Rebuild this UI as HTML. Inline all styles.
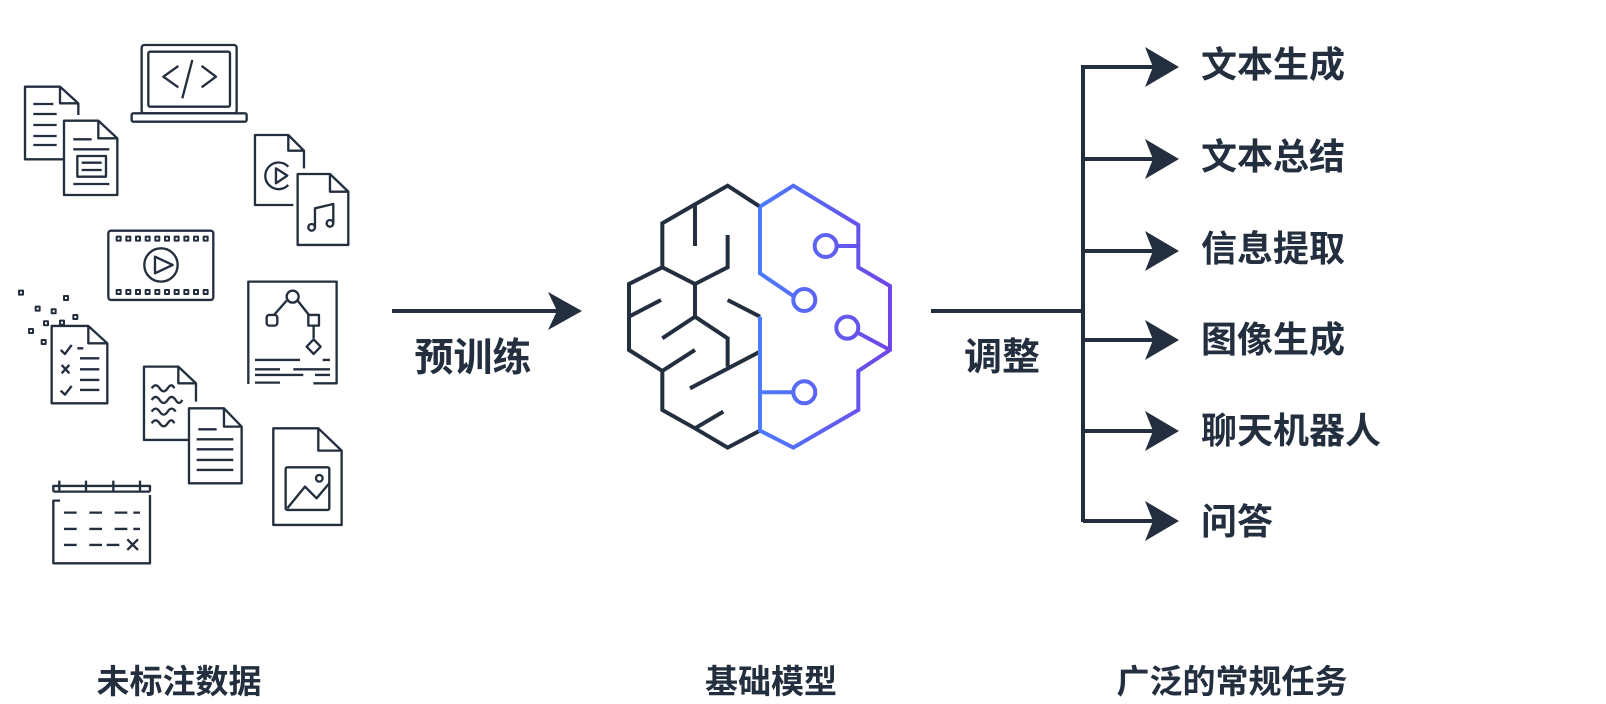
<!DOCTYPE html>
<html><head><meta charset="utf-8"><style>
html,body{margin:0;padding:0;background:#fff;width:1606px;height:704px;overflow:hidden}
svg{display:block}
text{font-family:"Liberation Sans","Noto Sans CJK SC",sans-serif;font-weight:bold;fill:#232f3e}
</style></head><body>
<svg width="1606" height="704" viewBox="0 0 1606 704" xmlns="http://www.w3.org/2000/svg">
<defs>
<linearGradient id="g" gradientUnits="userSpaceOnUse" x1="500" y1="0" x2="900" y2="0">
<stop offset="0" stop-color="#4a7dff"/><stop offset="1" stop-color="#6f45e6"/></linearGradient>
</defs>
<g transform="translate(0,30) scale(0.3333)" fill="none" stroke="#232f3e" stroke-width="7" stroke-linejoin="round">
<rect x="425" y="45" width="285" height="205" rx="8"/>
<rect x="445" y="65" width="245" height="165" rx="5"/>
<rect x="395" y="250" width="345" height="25" rx="5"/>
<path d="M535 108 L490 140 L535 172 M577 90 L547 205 M605 108 L648 140 L605 172"/>
<path d="M235 255 V220 L180 170 H75 V388 H190 M180 170 V220 H235"/>
<path d="M100 222H160M100 252H170M100 285H170M100 318H170M100 345H170"/>
<path d="M192 272 H295 L352 325 V495 H192 Z M295 272 V325 H352"/>
<path d="M220 328H275M220 358H328M220 462H328"/>
<rect x="232" y="378" width="86" height="62"/>
<path d="M245 398H305M245 420H305"/>
<path d="M912 415 V362 L865 315 H765 V525 H880 M865 315 V362 H912"/>
<path d="M865 410 A40 40 0 1 0 865 465"/>
<path d="M828 415 L862 437 L828 460 Z"/>
<path d="M893 432 H990 L1045 485 V645 H893 Z M990 432 V485 H1045"/>
<path d="M945 590 V535 L1000 522 V580"/>
<circle cx="935" cy="592" r="10"/><circle cx="990" cy="580" r="10"/>
<rect x="325" y="602" width="315" height="208" rx="8"/>
<g stroke-width="6">
<rect x="350" y="620" width="12" height="12"/><rect x="379" y="620" width="12" height="12"/><rect x="408" y="620" width="12" height="12"/><rect x="437" y="620" width="12" height="12"/><rect x="466" y="620" width="12" height="12"/><rect x="495" y="620" width="12" height="12"/><rect x="524" y="620" width="12" height="12"/><rect x="553" y="620" width="12" height="12"/><rect x="582" y="620" width="12" height="12"/><rect x="611" y="620" width="12" height="12"/>
<rect x="350" y="780" width="12" height="12"/><rect x="379" y="780" width="12" height="12"/><rect x="408" y="780" width="12" height="12"/><rect x="437" y="780" width="12" height="12"/><rect x="466" y="780" width="12" height="12"/><rect x="495" y="780" width="12" height="12"/><rect x="524" y="780" width="12" height="12"/><rect x="553" y="780" width="12" height="12"/><rect x="582" y="780" width="12" height="12"/><rect x="611" y="780" width="12" height="12"/>
</g>
<circle cx="483" cy="705" r="50"/>
<path d="M465 680 L518 705 L465 730 Z"/>
<g stroke-width="6">
<rect x="57" y="782" width="12" height="12"/><rect x="192" y="798" width="12" height="12"/><rect x="107" y="830" width="12" height="12"/><rect x="155" y="838" width="12" height="12"/><rect x="220" y="855" width="12" height="12"/><rect x="132" y="874" width="12" height="12"/><rect x="180" y="872" width="12" height="12"/><rect x="87" y="897" width="12" height="12"/><rect x="125" y="930" width="12" height="12"/>
</g>
<path d="M155 888 H265 L322 940 V1120 H155 Z M265 888 V940 H322"/>
<path d="M182 960 L195 972 L215 945 M232 955H250M185 1005 L208 1030 M208 1005 L185 1030 M240 985H298M240 1018H298M240 1050H298M182 1082 L195 1094 L215 1068 M240 1080H298"/>
<path d="M745 1062 V755 H1010 V1060 H940"/>
<circle cx="878" cy="800" r="18"/>
<rect x="800" y="855" width="32" height="32" rx="8"/>
<rect x="925" y="855" width="32" height="32"/>
<path d="M860 812 L822 855 M893 812 L927 855 M941 887 V925"/>
<path d="M941 928 L962 950 L941 972 L920 950 Z"/>
<path d="M765 990H900M968 990H990M765 1018H840M880 1018H990M765 1035H910M945 1035H990M765 1058H840"/>
<path d="M588 1115 V1060 L535 1010 H432 V1230 H565 M535 1010 V1060 H588"/>
<path d="M455 1075 q12 -18 24 0 q12 18 24 0 q12 -18 20 0 M455 1110 q12 -18 24 0 q12 18 24 0 q12 -18 24 0 q10 18 20 0 M455 1145 q12 -18 24 0 q12 18 24 0 q12 -18 24 0 M455 1180 q12 -18 24 0 q12 18 24 0 q12 -18 20 0"/>
<path d="M567 1135 H672 L725 1190 V1360 H567 Z M672 1135 V1190 H725"/>
<path d="M595 1198H650M590 1228H700M590 1258H700M590 1290H700M590 1320H700"/>
<path d="M820 1195 H955 L1025 1262 V1485 H820 Z M955 1195 V1262 H1025"/>
<rect x="857" y="1312" width="131" height="128" rx="5"/>
<path d="M862 1435 L915 1370 L950 1405 L988 1360"/>
<circle cx="958" cy="1345" r="10"/>
<path d="M160 1385 V1368 H178 M178 1352 V1385 M178 1368 H258 M258 1352 V1385 M258 1368 H340 M340 1352 V1385 M340 1368 H420 M420 1352 V1385 M420 1368 H450 V1385 M160 1385 H450"/>
<path d="M160 1440 V1412 H180 M160 1440 V1600 H450 V1395"/>
<path d="M192 1448H230M268 1448H306M344 1448H382M400 1448H420M192 1497H230M268 1497H306M344 1497H382M400 1497H420M192 1545H230M268 1545H306M320 1545H358M382 1528 L414 1560 M414 1528 L382 1560"/>
</g>
<line x1="392" y1="311" x2="560" y2="311" stroke="#232f3e" stroke-width="4"/>
<path d="M582 311 L548 292 L557 311 L548 330 Z" fill="#232f3e"/>
<text x="473" y="371" font-size="39" text-anchor="middle">预训练</text>
<g transform="translate(590,160) scale(0.3333)" fill="none" stroke-width="12" stroke-linejoin="miter" stroke-linecap="butt">
<g stroke="#232f3e">
<path d="M510 140 L413 77 L315 133 L217 190 V322 L117 372 V570 L217 633 V750 L315 805 L413 863 L510 812"/>
<path d="M315 133 V258 M217 322 L315 372 L413 322 V225 M315 372 V470 L217 535 M117 470 L213 420 M315 470 L413 535 V620 M217 633 L315 570 M300 685 L510 575 M413 420 L510 470 M315 805 L400 755"/>
</g>
<g stroke="url(#g)">
<path d="M510 140 V340 L610 408"/>
<circle cx="643" cy="420" r="33"/>
<path d="M510 140 L610 77 L805 195 V322 L900 378 V570 L805 633 V750 L610 863 L510 812 V470"/>
<circle cx="707" cy="258" r="33"/>
<path d="M740 258 H805"/>
<circle cx="772" cy="503" r="33"/>
<path d="M803 518 L900 570"/>
<circle cx="643" cy="697" r="33"/>
<path d="M510 697 H610"/>
</g>
</g>
<line x1="931" y1="311" x2="1085" y2="311" stroke="#232f3e" stroke-width="4"/>
<text x="1002" y="370" font-size="38" text-anchor="middle">调整</text>
<line x1="1083" y1="65" x2="1083" y2="522" stroke="#232f3e" stroke-width="4"/>
<g stroke="#232f3e" stroke-width="4">
<line x1="1083" y1="67" x2="1155" y2="67"/><line x1="1083" y1="159" x2="1155" y2="159"/><line x1="1083" y1="251" x2="1155" y2="251"/><line x1="1083" y1="340" x2="1155" y2="340"/><line x1="1083" y1="431" x2="1155" y2="431"/><line x1="1083" y1="521" x2="1155" y2="521"/>
</g>
<g fill="#232f3e">
<path d="M1179 67 L1145 47 L1153 67 L1145 87 Z"/>
<path d="M1179 159 L1145 139 L1153 159 L1145 179 Z"/>
<path d="M1179 251 L1145 231 L1153 251 L1145 271 Z"/>
<path d="M1179 340 L1145 320 L1153 340 L1145 360 Z"/>
<path d="M1179 431 L1145 411 L1153 431 L1145 451 Z"/>
<path d="M1179 521 L1145 501 L1153 521 L1145 541 Z"/>
</g>
<g font-size="36">
<text x="1201" y="77">文本生成</text>
<text x="1201" y="169">文本总结</text>
<text x="1201" y="261">信息提取</text>
<text x="1201" y="352">图像生成</text>
<text x="1201" y="443">聊天机器人</text>
<text x="1201" y="534">问答</text>
</g>
<g font-size="33" text-anchor="middle">
<text x="179" y="693">未标注数据</text>
<text x="771" y="693">基础模型</text>
<text x="1232" y="693">广泛的常规任务</text>
</g>
</svg>
</body></html>
